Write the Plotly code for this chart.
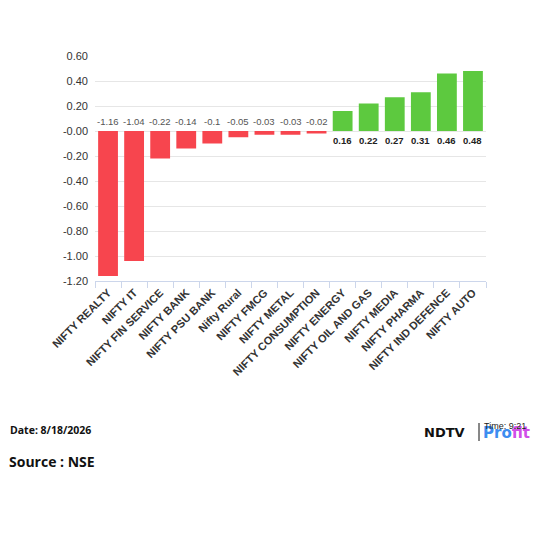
import plotly.graph_objects as go

# sector index change (%)
sectors = ["NIFTY REALTY", "NIFTY IT", "NIFTY FIN SERVICE", "NIFTY BANK", "NIFTY PSU BANK",
           "Nifty Rural", "NIFTY FMCG", "NIFTY METAL", "NIFTY CONSUMPTION", "NIFTY ENERGY",
           "NIFTY OIL AND GAS", "NIFTY MEDIA", "NIFTY PHARMA", "NIFTY IND DEFENCE", "NIFTY AUTO"]
changes = [-1.16, -1.04, -0.22, -0.14, -0.1, -0.05, -0.03, -0.03, -0.02,
           0.16, 0.22, 0.27, 0.31, 0.46, 0.48]
ytick_vals = [0.6, 0.4, 0.2, 0.0, -0.2, -0.4, -0.6, -0.8, -1.0, -1.2]
ytick_text = ["0.60", "0.40", "0.20", "-0.00", "-0.20", "-0.40", "-0.60", "-0.80", "-1.00", "-1.20"]

RED = "#f7454e"
GREEN = "#5dc93f"
W, H = 539, 539
OFF = 8  # the page body adds an 8px margin, so shift everything back
L, R, T, B = 95 - OFF, 486 - OFF, 56 - OFF, 281 - OFF

colors = [RED if v < 0 else GREEN for v in changes]

fig = go.Figure()
fig.add_trace(go.Bar(x=sectors, y=changes, marker=dict(color=colors, line=dict(width=0)),
                     width=0.76, hoverinfo="skip"))


def px(x):
    return (x - OFF - L) / (R - L)


def py(y):
    return (B - (y - OFF)) / (B - T)


anns = []
# value labels sit on the zero line: above for losers, below for gainers
for s, v in zip(sectors, changes):
    if v < 0:
        anns.append(dict(x=s, y=0, xref="x", yref="y", text=str(v), yshift=10,
                         font=dict(size=9.5, color="#555555")))
    else:
        anns.append(dict(x=s, y=0, xref="x", yref="y", text="<b>%.2f</b>" % v, yshift=-9,
                         font=dict(size=9.5, color="#222222")))

anns += [
    dict(x=px(8), y=py(430), text="<b>Date: 8/18/2026</b>", xanchor="left",
         xref="paper", yref="paper", font=dict(family="Open Sans", size=10.5, color="#111")),
    dict(x=px(7), y=py(461), text="<b>Source : NSE</b>", xanchor="left",
         xref="paper", yref="paper", font=dict(family="Open Sans", size=14, color="#111")),
    dict(x=px(467), y=py(432), text="<b>NDTV</b>", xanchor="right",
         xref="paper", yref="paper", font=dict(family="DejaVu Sans", size=13, color="#111")),
    dict(x=px(481), y=py(433), text="<b><span style='color:#3d8df0'>Pro</span>"
                                    "<span style='color:#d04ee8'>fit</span></b>",
         xanchor="left", xref="paper", yref="paper", font=dict(family="DejaVu Sans", size=15)),
    dict(x=px(482), y=py(426), text="Time: 9:21", xanchor="left",
         xref="paper", yref="paper", font=dict(family="Liberation Sans", size=9, color="#222")),
]
for a in anns:
    a.update(showarrow=False, yanchor="middle")
fig.add_shape(type="line", xref="paper", yref="paper", x0=px(479), x1=px(479),
              y0=py(423), y1=py(441), line=dict(color="#111", width=1))

fig.update_layout(
    width=W, height=H, margin=dict(l=L, r=W - R, t=T, b=H - B),
    paper_bgcolor="white", plot_bgcolor="white", showlegend=False,
    annotations=anns, bargap=0.24,
    font=dict(family="Arial, Liberation Sans", color="#333"),
)
fig.update_yaxes(range=[-1.2, 0.6], tickvals=ytick_vals, ticktext=ytick_text,
                 showgrid=True, gridcolor="#e6e6e6", gridwidth=1,
                 zeroline=True, zerolinecolor="#e6e6e6", zerolinewidth=1,
                 tickfont=dict(size=11, color="#333"), ticks="", showline=False,
                 ticklabelstandoff=6)
fig.update_xaxes(tickangle=-45, tickfont=dict(size=11, color="#333", family="Arial, Liberation Sans"),
                 showline=True, linecolor="#ccd6eb", ticks="outside", tickson="boundaries",
                 ticklen=6, tickcolor="#ccd6eb", showgrid=False)
fig.update_xaxes(tickvals=sectors, ticktext=["<b>%s</b>" % s for s in sectors])

fig.write_html("out.html")
